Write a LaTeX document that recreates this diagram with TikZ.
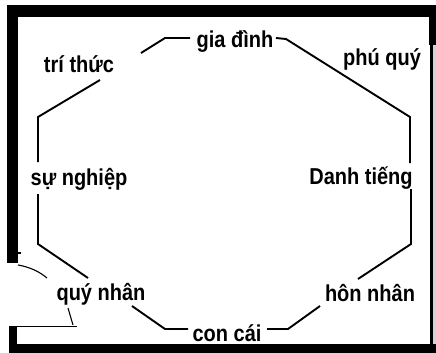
\documentclass[tikz,border=0pt]{standalone}
\usepackage{graphicx}
\usepackage{fontspec}
\setmainfont{Liberation Sans}
\newcommand{\talltext}[1]{\scalebox{1}[1.15]{#1}}
\begin{document}
\begin{tikzpicture}[x=1pt,y=-1pt,
  edge/.style={line width=1.9pt, line join=miter},
  thin/.style={line width=1.1pt},
  lbl/.style={font=\fontsize{20}{24}\selectfont\bfseries, inner sep=0pt}]
\useasboundingbox (0,0) rectangle (436,353);
\fill[white] (0,0) rectangle (436,353);
% frame
\fill (7,5) rectangle (436,17);
\fill (7,5) rectangle (18,263);
\fill (17,252) rectangle (21,254);
\fill (429,5) rectangle (436,45);
\fill[gray!35] (432.5,45) rectangle (436,344);
\fill (430,45) rectangle (432.5,344);
\fill (9,344) rectangle (436,353);
\fill (9,326) rectangle (17,353);
\coordinate (fa) at (17,326.5);
\coordinate (fb) at (77,326.5);
\coordinate (fc) at (68,308);
\coordinate (fd) at (73,325);
\coordinate (fe) at (18,265);
\coordinate (ff) at (47,278);
\draw[thin] (fa) -- (fb);
\draw[thin] (fc) -- (fd);
\draw[thin] (fe) .. controls (30,267) and (40,272) .. (ff);
% labels
\node[lbl] (giadinh) at (235,42) {\talltext{gia đình}};
\node[lbl] (trithuc) at (79,64) {\talltext{trí thức}};
\node[lbl] (phuquy) at (382,59) {\talltext{phú quý}};
\node[lbl] (sunghiep) at (79,179) {\talltext{sự nghiệp}};
\node[lbl] (danhtieng) at (361,178) {\talltext{Danh tiếng}};
\node[lbl] (quynhan) at (101,294) {\talltext{quý nhân}};
\node[lbl] (honnhan) at (370,293) {\talltext{hôn nhân}};
\node[lbl] (concai) at (227,333) {\talltext{con cái}};
% octagon connector ends
\coordinate (g1) at (190,38);
\coordinate (g2) at (276,38);
\coordinate (t1) at (141,53);
\coordinate (t2) at (100,80);
\coordinate (s1) at (38,162);
\coordinate (s2) at (38,194);
\coordinate (q1) at (88,278);
\coordinate (q2) at (132,306);
\coordinate (c1) at (188,329);
\coordinate (c2) at (267,329);
\coordinate (h1) at (320,306);
\coordinate (h2) at (358,279);
\coordinate (d1) at (410,163);
\coordinate (d2) at (411,189);
\draw[edge] (g1) -- (165,38) -- (t1);
\draw[edge] (t2) -- (38,117) -- (s1);
\draw[edge] (s2) -- (38,244) -- (q1);
\draw[edge] (q2) -- (165,329) -- (c1);
\draw[edge] (c2) -- (288,329) -- (h1);
\draw[edge] (h2) -- (411,244) -- (d2);
\draw[edge] (d1) -- (410,117) -- (286,39) -- (g2);
\end{tikzpicture}
\end{document}
